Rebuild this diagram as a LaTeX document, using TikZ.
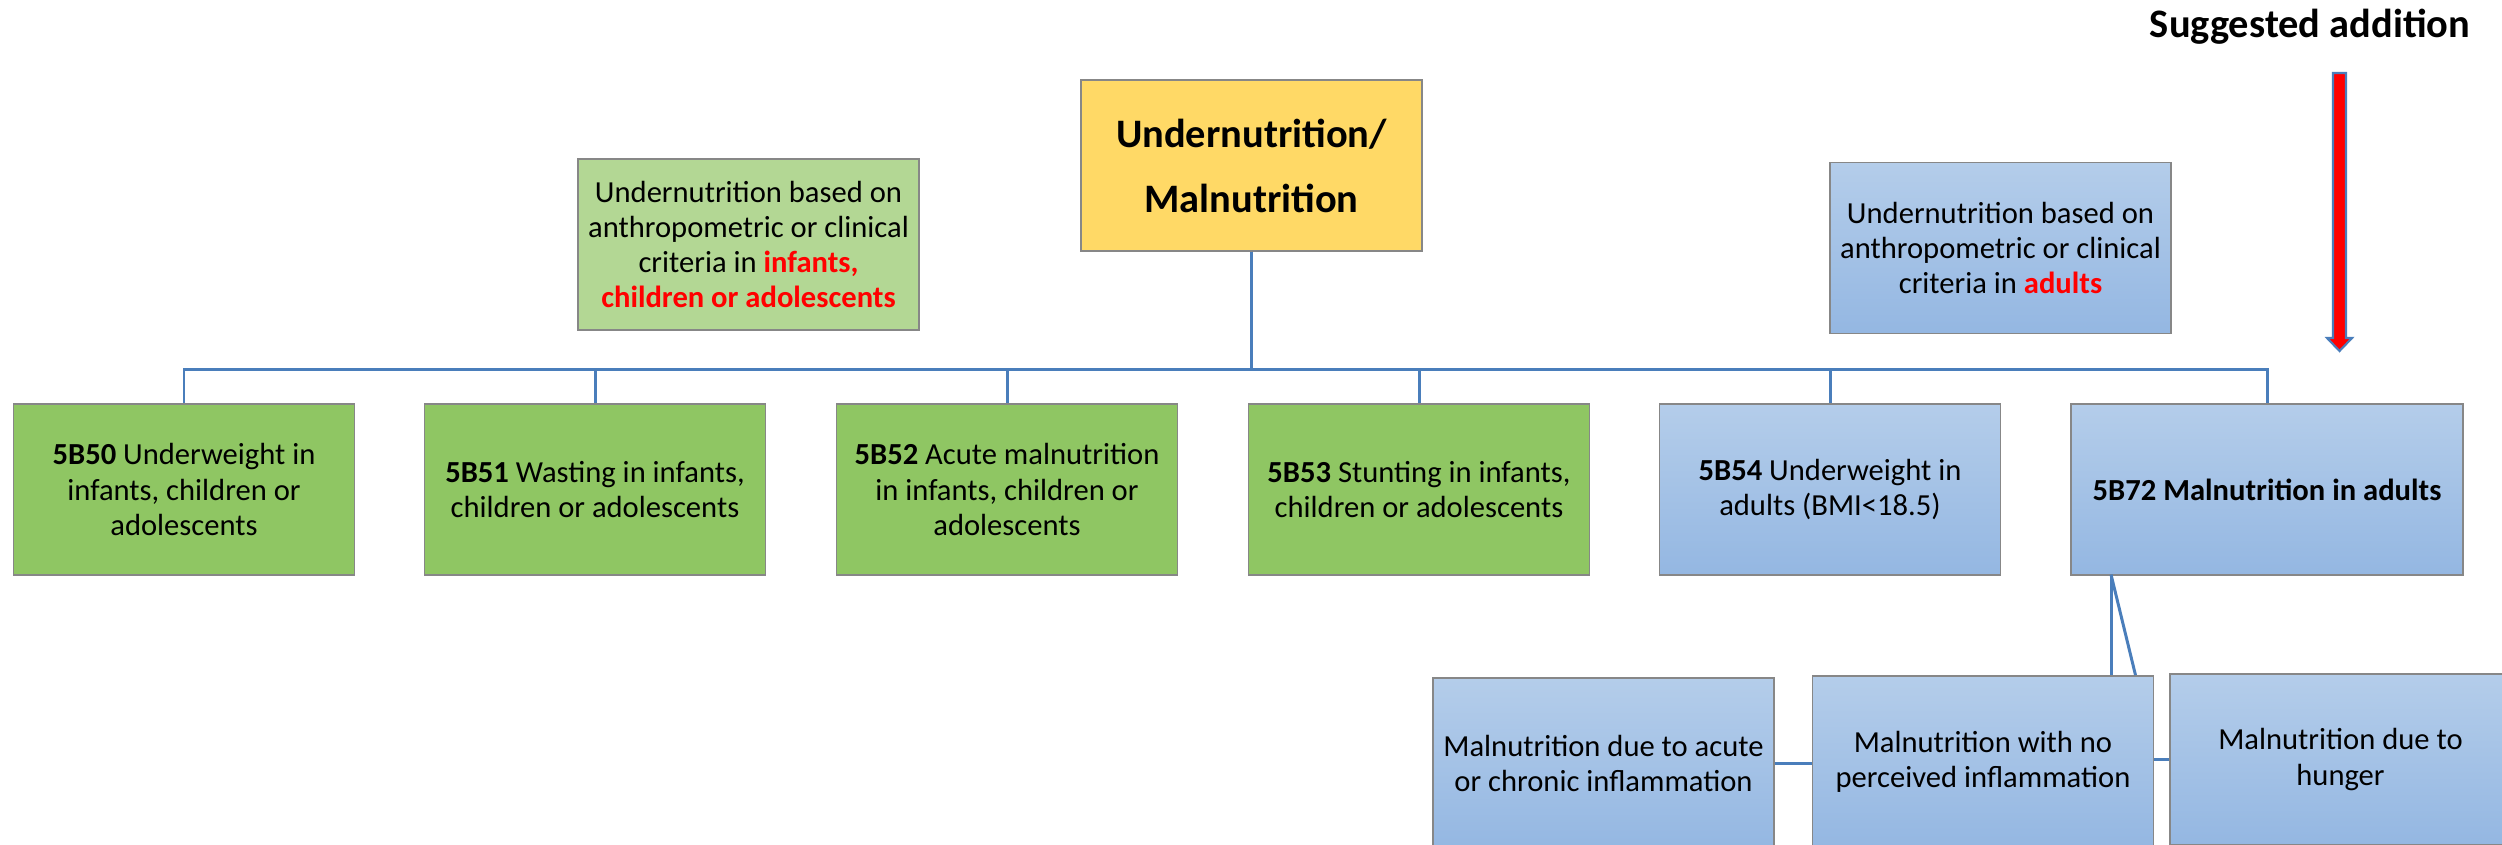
\documentclass[tikz,border=0pt]{standalone}
\usepackage{fontspec}
\setmainfont{Carlito}
\usepackage{xcolor}
\usetikzlibrary{positioning, calc}

\definecolor{linkblue}{HTML}{4A7EBB}
\definecolor{boxgray}{HTML}{878787}
\definecolor{titleyellow}{HTML}{FFD966}
\definecolor{infogreen}{HTML}{B3D794}
\definecolor{codegreen}{HTML}{8FC663}
\definecolor{bluetop}{HTML}{B4CDEA}
\definecolor{bluebot}{HTML}{94B7E2}

\tikzset{
  box/.style={draw=boxgray, line width=0.5pt, minimum width=3.41cm,
    minimum height=1.71cm, align=center, inner sep=0pt,
    font=\fontsize{8.7}{10}\selectfont},
  titlebox/.style={box, fill=titleyellow,
    font=\fontsize{11.5}{18.5}\selectfont\bfseries},
  infobox/.style={box, fill=infogreen},
  greenbox/.style={box, fill=codegreen},
  bluebox/.style={box, top color=bluetop, bottom color=bluebot},
  link/.style={draw=linkblue, line width=0.85pt},
}

\begin{document}
\begin{tikzpicture}[x=0.01cm, y=-0.01cm]

        \useasboundingbox (0,0) rectangle (2502,844);
        \clip (0,0) rectangle (2502,844);

        % Top of the tree and the two side notes
        \node (main) [titlebox] at (1251.5,165.5) {Undernutrition/\\Malnutrition};
        \node (kids) [infobox] at (748.5,244.5) {Undernutrition based on\\anthropometric or clinical\\criteria in \textcolor{red}{\textbf{infants,}}\\\textcolor{red}{\textbf{children or adolescents}}};
        \node (adults) [bluebox] at (2000.5,248) {Undernutrition based on\\anthropometric or clinical\\criteria in \textcolor{red}{\textbf{adults}}};

        % Second row, the codes
        \node (b50) [greenbox] at (184,489.5) {\textbf{5B50} Underweight in\\infants, children or\\adolescents};
        \node (b51) [greenbox] at (595,489.5) {\textbf{5B51} Wasting in infants,\\children or adolescents};
        \node (b52) [greenbox] at (1007,489.5) {\textbf{5B52} Acute malnutrition\\in infants, children or\\adolescents};
        \node (b53) [greenbox] at (1419,489.5) {\textbf{5B53} Stunting in infants,\\children or adolescents};
        \node (b54) [bluebox] at (1830,489.5) {\textbf{5B54} Underweight in\\adults (BMI<18.5)};
        \node (b72) [bluebox, minimum width=3.92cm] at (2267,489.5) {\textbf{5B72 Malnutrition in adults}};

        % Third row (cut off by the page edge)
        \node (acute) [bluebox] at (1603.5,763.5) {Malnutrition due to acute\\or chronic inflammation};
        \node (noinfl) [bluebox] at (1983,761.5) {Malnutrition with no\\perceived inflammation};
        \node (hunger) [bluebox] at (2340.5,759.5) {Malnutrition due to\\hunger};

        % Draw the tree lines from the top box
        \foreach \n in {b50,b51,b52,b53,b54,b72}
            \draw[link] (main.south) -- ++(0,118) -| (\n.north);

        % Lines under 5B72
        \coordinate (fork) at (2111,574.5);
        \draw[link] (fork) -- (fork |- noinfl.north);
        \draw[link] (fork) -- ($(noinfl.north east)+(-19,0)$);
        \draw[link] (acute.east) -- (acute.east -| noinfl.west);
        \draw[link] (hunger.west -| noinfl.east) -- (hunger.west);

        % The red arrow and its label
        \node (suggest) [font=\fontsize{11.5}{13}\selectfont\bfseries, anchor=base] at (2310,37) {Suggested addition};
        \draw[draw=linkblue, line width=0.6pt, fill=red] (2333,73) -- (2346,73) -- (2346,338) -- (2352,338)
            -- (2339.5,351) -- (2327,338) -- (2333,338) -- cycle;
\end{tikzpicture}
\end{document}
